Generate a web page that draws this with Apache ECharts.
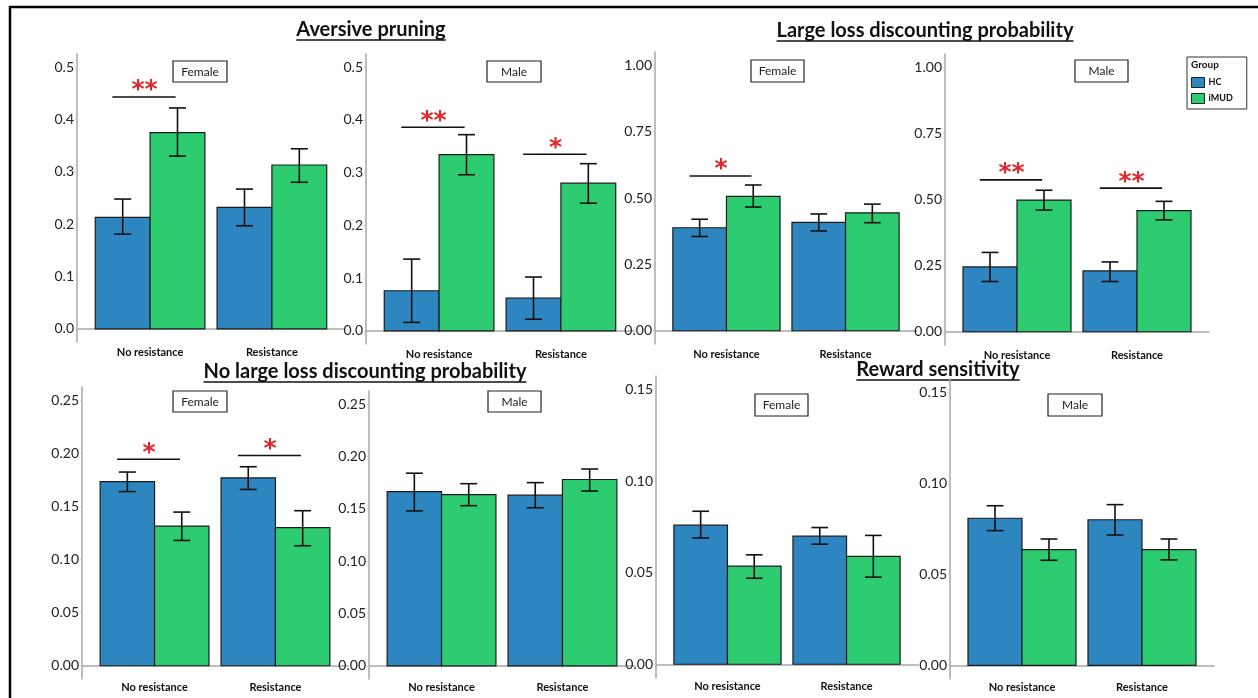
<!DOCTYPE html>
<html><head><meta charset="utf-8">
<script src="https://cdn.jsdelivr.net/npm/echarts@6/dist/echarts.min.js"></script>
<style>html,body{margin:0;padding:0;background:#fff}#c{width:1258px;height:698px}</style>
</head><body><div id="c"></div>
<script>
// ---------- DATA ----------
const categories = ['No resistance', 'Resistance'];
const groups = ['HC', 'iMUD'];
const sexes = ['Female', 'Male'];
const titles = ['Aversive pruning', 'Large loss discounting probability', 'No large loss discounting probability', 'Reward sensitivity'];

// each row: [mean, lower, upper] per category
const apFemaleHC   = [[0.213, 0.181, 0.248], [0.232, 0.197, 0.267]];
const apFemaleIMUD = [[0.375, 0.330, 0.422], [0.313, 0.280, 0.344]];
const apMaleHC     = [[0.076, 0.016, 0.136], [0.062, 0.022, 0.102]];
const apMaleIMUD   = [[0.334, 0.296, 0.372], [0.280, 0.242, 0.317]];

const llFemaleHC   = [[0.388, 0.355, 0.420], [0.408, 0.376, 0.440]];
const llFemaleIMUD = [[0.506, 0.466, 0.549], [0.444, 0.407, 0.477]];
const llMaleHC     = [[0.245, 0.190, 0.300], [0.230, 0.190, 0.264]];
const llMaleIMUD   = [[0.498, 0.460, 0.535], [0.458, 0.423, 0.493]];

const nlFemaleHC   = [[0.1733, 0.1640, 0.1824], [0.1770, 0.1660, 0.1874]];
const nlFemaleIMUD = [[0.1315, 0.1180, 0.1447], [0.1300, 0.1130, 0.1460]];
const nlMaleHC     = [[0.1664, 0.1480, 0.1840], [0.1630, 0.1510, 0.1750]];
const nlMaleIMUD   = [[0.1635, 0.1530, 0.1740], [0.1780, 0.1670, 0.1880]];

const rsFemaleHC   = [[0.0760, 0.0690, 0.0836], [0.0700, 0.0656, 0.0747]];
const rsFemaleIMUD = [[0.0536, 0.0470, 0.0598], [0.0590, 0.0476, 0.0704]];
const rsMaleHC     = [[0.0809, 0.0741, 0.0878], [0.0801, 0.0717, 0.0884]];
const rsMaleIMUD   = [[0.0637, 0.0578, 0.0695], [0.0637, 0.0580, 0.0695]];

// significance: [category (1/2), bracket height, label]
const apFemaleSig = [[1, 0.443, '**']];
const apMaleSig   = [[1, 0.386, '**'], [2, 0.335, '*']];
const llFemaleSig = [[1, 0.583, '*']];
const llMaleSig   = [[1, 0.574, '**'], [2, 0.543, '**']];
const nlFemaleSig = [[1, 0.1945, '*'], [2, 0.198, '*']];
const nlMaleSig   = [];
const rsFemaleSig = [];
const rsMaleSig   = [];

// tick labels
const ticksAP = [0, 0.1, 0.2, 0.3, 0.4, 0.5];
const ticksLL = [0, 0.25, 0.5, 0.75, 1.0];
const ticksNL = [0, 0.05, 0.10, 0.15, 0.20, 0.25];
const ticksRS = [0, 0.05, 0.10, 0.15];

// ---------- LAYOUT / STYLE ----------
const FONT = 'Lato, "Open Sans", sans-serif';
const COLORS = { HC: '#2e86c1', iMUD: '#2ecc71' };
const panels = [
  { hc: apFemaleHC, im: apFemaleIMUD, sig: apFemaleSig, ticks: ticksAP, dec: 1, sex: 0, grid: [77, 54, 268, 288], box: [173, 61, 54, 21] },
  { hc: apMaleHC, im: apMaleIMUD, sig: apMaleSig, ticks: ticksAP, dec: 1, sex: 1, grid: [366, 54, 268, 290], box: [487, 61, 54, 21] },
  { hc: llFemaleHC, im: llFemaleIMUD, sig: llFemaleSig, ticks: ticksLL, dec: 2, sex: 0, grid: [655, 52, 262, 292], box: [751, 60, 53, 22] },
  { hc: llMaleHC, im: llMaleIMUD, sig: llMaleSig, ticks: ticksLL, dec: 2, sex: 1, grid: [945, 54, 264, 291], box: [1075, 60, 53, 22] },
  { hc: nlFemaleHC, im: nlFemaleIMUD, sig: nlFemaleSig, ticks: ticksNL, dec: 2, sex: 0, grid: [82, 387, 266, 292], box: [173, 391, 54, 21] },
  { hc: nlMaleHC, im: nlMaleIMUD, sig: nlMaleSig, ticks: ticksNL, dec: 2, sex: 1, grid: [369, 391, 266, 288], box: [488, 391, 53, 21] },
  { hc: rsFemaleHC, im: rsFemaleIMUD, sig: rsFemaleSig, ticks: ticksRS, dec: 2, sex: 0, grid: [656, 376, 262, 302], box: [755, 394, 53, 22] },
  { hc: rsMaleHC, im: rsMaleIMUD, sig: rsMaleSig, ticks: ticksRS, dec: 2, sex: 1, grid: [950, 379, 264, 300], box: [1048, 394, 54, 22] }
];
const titleLayout = [[371, 30], [925, 31], [365, 372], [938, 370]];

const BAR_W = 0.45, CAP = 0.07;

const chart = echarts.init(document.getElementById('c'), null, { renderer: 'canvas' });

const grid = [], xAxis = [], yAxis = [], series = [];
panels.forEach((p, i) => {
  const t = p.ticks;
  const top = t[t.length - 1];
  const pad = top * 0.05;
  grid.push({ left: p.grid[0], top: p.grid[1], width: p.grid[2], height: p.grid[3], containLabel: false });
  xAxis.push({
    gridIndex: i, type: 'value', min: 0.4, max: 2.6,
    axisLine: { show: true, lineStyle: { color: '#a8a8a8', width: 1.5 } },
    axisTick: { show: true, customValues: [1, 2], length: 2, lineStyle: { color: '#c8c8c8' } },
    axisLabel: { customValues: [1, 2], formatter: v => categories[Math.round(v) - 1], fontFamily: FONT, fontSize: 11, fontWeight: 'bold', color: '#111', margin: i < 4 ? 5 : 3 },
    splitLine: { show: false }
  });
  yAxis.push({
    gridIndex: i, type: 'value', min: -pad, max: top + pad,
    axisLine: { show: true, lineStyle: { color: '#a8a8a8', width: 1.5 } },
    axisTick: { show: true, customValues: t, length: 2, lineStyle: { color: '#c8c8c8' } },
    axisLabel: { customValues: t, formatter: v => v.toFixed(p.dec), fontFamily: FONT, fontSize: 14, color: '#222', margin: 3 },
    splitLine: { show: false }
  });
  [['HC', p.hc, -1], ['iMUD', p.im, 1]].forEach(([name, arr, side]) => {
    series.push({
      type: 'custom', name, xAxisIndex: i, yAxisIndex: i,
      itemStyle: { color: COLORS[name] },
      data: arr.map((d, k) => [k + 1, d[0], d[1], d[2]]),
      encode: { x: 0, y: [1, 2, 3] },
      renderItem: (params, api) => {
        const cx = api.value(0) + side * BAR_W / 2;
        const m = api.value(1), lo = api.value(2), hi = api.value(3);
        const a = api.coord([cx - BAR_W / 2, m]);
        const b = api.coord([cx + BAR_W / 2, 0]);
        const pLo = api.coord([cx, lo]), pHi = api.coord([cx, hi]);
        const c1 = api.coord([cx - CAP, lo])[0], c2 = api.coord([cx + CAP, lo])[0];
        const ls = { stroke: '#111', lineWidth: 1.6 };
        return {
          type: 'group', children: [
            { type: 'rect', shape: { x: a[0], y: a[1], width: b[0] - a[0], height: b[1] - a[1] }, style: { fill: COLORS[name], stroke: '#1c1c1c', lineWidth: 1.2 } },
            { type: 'line', shape: { x1: pLo[0], y1: pLo[1], x2: pHi[0], y2: pHi[1] }, style: ls },
            { type: 'line', shape: { x1: c1, y1: pLo[1], x2: c2, y2: pLo[1] }, style: ls },
            { type: 'line', shape: { x1: c1, y1: pHi[1], x2: c2, y2: pHi[1] }, style: ls }
          ]
        };
      }
    });
  });
  if (p.sig.length) {
    series.push({
      type: 'custom', name: 'sig' + i, xAxisIndex: i, yAxisIndex: i,
      data: p.sig.map(s => [s[0], s[1], s[2]]),
      encode: { x: 0, y: 1 },
      renderItem: (params, api) => {
        const x = api.value(0), y = api.value(1);
        const lab = p.sig[params.dataIndex][2];
        const l = api.coord([x - 0.31, y]), r = api.coord([x + 0.21, y]);
        const t = api.coord([x - 0.045, y]);
        return {
          type: 'group', children: [
            { type: 'line', shape: { x1: l[0], y1: l[1], x2: r[0], y2: r[1] }, style: { stroke: '#111', lineWidth: 1.6 } },
            { type: 'text', x: t[0], y: t[1] - 6, style: { text: lab, fill: '#e3262b', font: 'bold 25px "DejaVu Sans"', align: 'center', verticalAlign: 'middle' } }
          ]
        };
      }
    });
  }
});

// measure titles for underline
const ctx = document.createElement('canvas').getContext('2d');
const TFONT = 'bold 20px ' + FONT;
ctx.font = TFONT;
const graphic = [];
titles.forEach((t, i) => {
  const w = ctx.measureText(t).width;
  const [cx, cy] = titleLayout[i];
  graphic.push({ type: 'text', x: cx, y: cy, style: { text: t, font: TFONT, fill: '#111', align: 'center', verticalAlign: 'middle' } });
  graphic.push({ type: 'line', shape: { x1: cx - w / 2, y1: cy + 10, x2: cx + w / 2, y2: cy + 10 }, style: { stroke: '#111', lineWidth: 1.4 } });
});
panels.forEach(p => {
  const [x, y, w, h] = p.box;
  graphic.push({ type: 'rect', shape: { x: x, y: y, width: w, height: h }, style: { fill: '#fff', stroke: '#222', lineWidth: 1.2 } });
  graphic.push({ type: 'text', x: x + w / 2, y: y + h / 2 + 0.5, style: { text: sexes[p.sex], font: '12px ' + FONT, fill: '#222', align: 'center', verticalAlign: 'middle' } });
});
// legend title
graphic.push({ type: 'text', x: 1191, y: 65, style: { text: 'Group', font: 'bold 10px ' + FONT, fill: '#111', align: 'left', verticalAlign: 'middle' } });
// outer frame
graphic.push({ type: 'line', shape: { x1: 9, y1: 7, x2: 1258, y2: 7 }, style: { stroke: '#000', lineWidth: 2.5 } });
graphic.push({ type: 'line', shape: { x1: 10, y1: 6, x2: 10, y2: 698 }, style: { stroke: '#000', lineWidth: 2.5 } });

chart.setOption({
  animation: false,
  backgroundColor: '#fff',
  textStyle: { fontFamily: FONT },
  grid, xAxis, yAxis, series, graphic,
  legend: {
    data: groups, orient: 'vertical', left: 1187, top: 57, width: 52,
    padding: [20, 14, 5, 4], itemGap: 5, itemWidth: 13, itemHeight: 10,
    borderColor: '#333', borderWidth: 1, selectedMode: false,
    icon: 'rect',
    itemStyle: { borderColor: '#222', borderWidth: 1 },
    textStyle: { fontFamily: FONT, fontSize: 9, fontWeight: 'bold', color: '#111', padding: [0, 0, 0, -1] }
  }
});
</script></body></html>
